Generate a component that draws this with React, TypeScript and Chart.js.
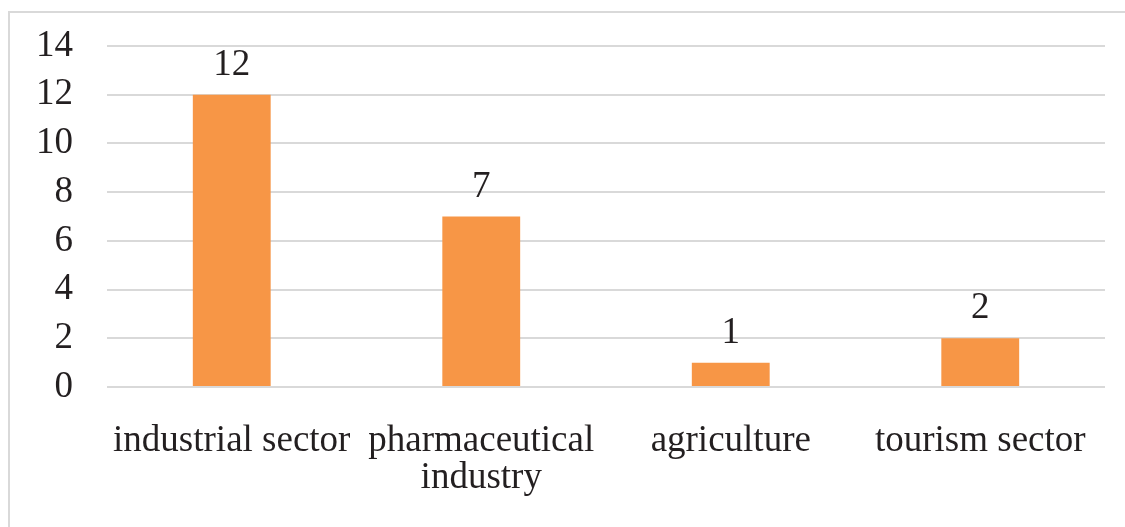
import React, { useEffect, useRef } from "react";
import { Chart, registerables } from "chart.js";

Chart.register(...registerables);

const categories: (string | string[])[] = [
  "industrial sector",
  ["pharmaceutical", "industry"],
  "agriculture",
  "tourism sector",
];
const counts = [12, 7, 1, 2];
const yMin = 0;
const yMax = 14;
const yStep = 2;

const FONT = "'Liberation Serif', 'Times New Roman', serif";
const TEXT = "#231f20";

const valueLabels = {
  id: "valueLabels",
  afterDatasetsDraw(chart: any) {
    const ctx = chart.ctx;
    const meta = chart.getDatasetMeta(0);
    ctx.save();
    ctx.font = `37px ${FONT}`;
    ctx.fillStyle = TEXT;
    ctx.textAlign = "center";
    ctx.textBaseline = "alphabetic";
    meta.data.forEach((bar: any, i: number) => {
      ctx.fillText(String(counts[i]), bar.x, bar.y - 20);
    });
    ctx.restore();
  },
};

export default function App() {
  const ref = useRef<HTMLCanvasElement>(null);
  useEffect(() => {
    if (!ref.current) return;
    const chart = new Chart(ref.current, {
      type: "bar",
      data: {
        labels: categories,
        datasets: [
          {
            data: counts,
            backgroundColor: "#F79646",
            borderWidth: 0,
            barPercentage: 0.312,
            categoryPercentage: 1,
          },
        ],
      },
      options: {
        animation: false,
        responsive: false,
        maintainAspectRatio: false,
        layout: { padding: { left: 0, right: 20, top: 46, bottom: 0 } },
        plugins: { legend: { display: false }, tooltip: { enabled: false } },
        scales: {
          x: {
            grid: { display: false, drawTicks: false },
            border: { display: false },
            ticks: {
              color: TEXT,
              font: { family: FONT, size: 37, lineHeight: 1.0 },
              padding: 36,
              maxRotation: 0,
              autoSkip: false,
            },
            afterFit: (s: any) => {
              s.height = 527 - 387;
            },
          },
          y: {
            min: yMin,
            max: yMax,
            ticks: {
              stepSize: yStep,
              color: TEXT,
              font: { family: FONT, size: 37 },
              padding: 34,
              autoSkip: false,
            },
            grid: { color: "#d9d9d9", lineWidth: 2, drawTicks: false },
            border: { display: false },
            afterFit: (s: any) => {
              s.width = 107;
              s.paddingTop = 0;
              s.paddingBottom = 0;
            },
          },
        },
      },
      plugins: [valueLabels],
    });
    return () => chart.destroy();
  }, []);
  return (
    <div
      style={{
        position: "fixed",
        left: 0,
        top: 0,
        width: 1125,
        height: 527,
        background: "#fff",
        overflow: "hidden",
      }}
    >
      <div
        style={{
          position: "absolute",
          left: 8,
          top: 11,
          width: 1125,
          height: 527,
          borderLeft: "2px solid #d9d9d9",
          borderTop: "2px solid #d9d9d9",
        }}
      />
      <canvas
        ref={ref}
        width={1125}
        height={527}
        style={{ position: "absolute", left: 0, top: 0 }}
      />
    </div>
  );
}
